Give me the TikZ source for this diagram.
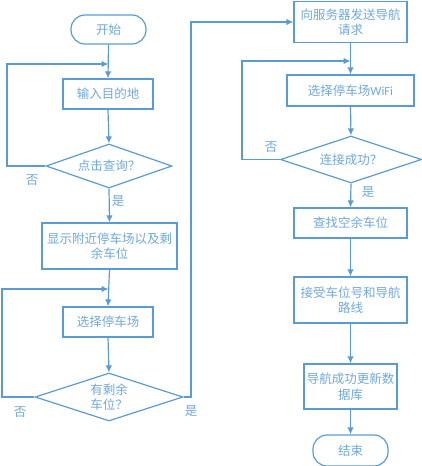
\documentclass[tikz,border=0pt]{standalone}
\usepackage{fontspec}
\newfontfamily\cjk{Noto Sans CJK SC}
\newfontfamily\lat{Carlito}
\usetikzlibrary{shapes.geometric,arrows.meta}
\definecolor{lineblue}{HTML}{5B9BD5}
\definecolor{textblue}{HTML}{6FA8DC}
\tikzset{
  base/.style={draw=lineblue, line width=1.2pt, text=textblue, font=\cjk\fontsize{12.5}{15.5}\selectfont, align=center, inner sep=0pt},
  procbox/.style={base, rectangle},
  termbox/.style={base, rectangle, rounded corners=14pt},
  decbox/.style={base, diamond},
  conn/.style={draw=lineblue, line width=1.2pt},
  arr/.style={conn, -{Latex[length=7pt,width=6.5pt]}},
  lbl/.style={text=textblue, font=\cjk\fontsize{12.5}{14}\selectfont, inner sep=0pt}
}
\begin{document}
\begin{tikzpicture}[x=1pt,y=-1pt]
\useasboundingbox (0,0) rectangle (422,466);
% left column
\node[termbox, minimum width=75pt, minimum height=29pt] (start) at (108.5,29.5) {开始};
\node[procbox, minimum width=90pt, minimum height=30pt] (input) at (108,94) {输入目的地};
\node[decbox, aspect=2.86, minimum width=126pt, minimum height=44pt] (q1) at (109,166) {点击查询？};
\node[procbox, minimum width=135pt, minimum height=46pt] (show) at (109.5,246) {显示附近停车场以及剩\\余车位};
\node[procbox, minimum width=90pt, minimum height=30pt] (sel) at (108,322) {选择停车场};
\node[decbox, aspect=3.08, minimum width=148pt, minimum height=48pt] (q2) at (109,397) {有剩余\\车位？};
% right column
\node[procbox, minimum width=113pt, minimum height=41pt] (req) at (350.5,22) {向服务器发送导航\\请求};
\node[procbox, minimum width=127pt, minimum height=31pt] (wifi) at (350.5,90.5) {选择停车场{\lat WiFi}};
\node[decbox, aspect=3.0, minimum width=141pt, minimum height=47pt] (q3) at (351,159.5) {连接成功？};
\node[procbox, minimum width=113pt, minimum height=30pt] (find) at (350.5,223) {查找空余车位};
\node[procbox, minimum width=113pt, minimum height=46pt] (recv) at (350.5,300) {接受车位号和导航\\路线};
\node[procbox, minimum width=93pt, minimum height=45pt] (upd) at (350.5,386.5) {导航成功更新数\\据库};
\node[termbox, minimum width=75pt, minimum height=31pt] (end) at (350.5,450.5) {结束};
% junction coordinates
\coordinate (j1) at (108.5,64);
\coordinate (l1) at (7,166);
\coordinate (j2) at (108.5,289);
\coordinate (l2) at (2,397);
\coordinate (r2) at (191,397);
\coordinate (j3) at (350.5,61);
\coordinate (l3) at (242,159.5);
% connectors
\draw[arr] (start.south) -- (input.north);
\draw[arr] (q1.west) -- (l1) |- (j1);
\draw[arr] (input.south) -- (q1.north);
\draw[arr] (q1.south) -- (show.north);
\draw[arr] (show.south) -- (sel.north);
\draw[arr] (q2.west) -- (l2) |- (j2);
\draw[arr] (sel.south) -- (q2.north);
\draw[arr] (q2.east) -- (r2) |- (req.west);
\draw[arr] (req.south) -- (wifi.north);
\draw[arr] (q3.west) -- (l3) |- (j3);
\draw[arr] (wifi.south) -- (q3.north);
\draw[arr] (q3.south) -- (find.north);
\draw[arr] (find.south) -- (recv.north);
\draw[arr] (recv.south) -- (upd.north);
\draw[arr] (upd.south) -- (end.north);
% labels
\node[lbl] (n1) at (32,180) {否};
\node[lbl] (y1) at (118,201) {是};
\node[lbl] (n2) at (20,412) {否};
\node[lbl] (y2) at (191,411) {是};
\node[lbl] (n3) at (271,147) {否};
\node[lbl] (y3) at (368,192) {是};
\end{tikzpicture}
\end{document}
